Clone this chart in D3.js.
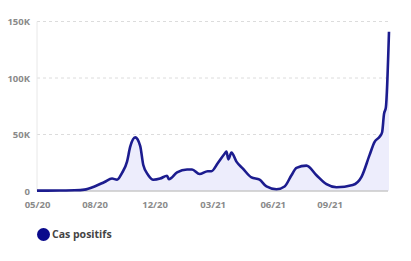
<!DOCTYPE html>
<html>
<head>
<meta charset="utf-8">
<script src="https://cdn.jsdelivr.net/npm/d3@7"></script>
<style>
  html, body { margin: 0; padding: 0; background: #fff; }
  svg { display: block; font-family: "Open Sans", sans-serif; }
</style>
</head>
<body>
<svg id="chart"></svg>
<script>
const dates = [
  "2020-05-29", "2020-07-04", "2020-07-28", "2020-08-13", "2020-08-29",
  "2020-09-14", "2020-09-26", "2020-10-04", "2020-10-12", "2020-10-20",
  "2020-10-25", "2020-11-02", "2020-11-10", "2020-11-15", "2020-11-23",
  "2020-12-01", "2020-12-12", "2020-12-23", "2020-12-26", "2021-01-08",
  "2021-01-24", "2021-02-01", "2021-02-13", "2021-02-26", "2021-03-04",
  "2021-03-14", "2021-03-25", "2021-03-28", "2021-03-31", "2021-04-05",
  "2021-04-13", "2021-04-23", "2021-05-07", "2021-05-20", "2021-05-31",
  "2021-06-16", "2021-06-29", "2021-07-10", "2021-07-18", "2021-08-03",
  "2021-08-19", "2021-09-04", "2021-09-20", "2021-10-16", "2021-10-30",
  "2021-11-12", "2021-11-20", "2021-11-28", "2021-12-02", "2021-12-05",
  "2021-12-08", "2021-12-13"
];
const casPositifs = [
  300, 400, 600, 1200, 4000,
  8000, 11000, 10000, 16000, 26000,
  39000, 47500, 40000, 23000, 14000,
  10000, 11000, 13500, 10500, 16500,
  19000, 19000, 15000, 17500, 17500,
  24500, 33000, 35000, 28000, 34000,
  26000, 20000, 12000, 10000, 4000,
  1500, 4000, 14000, 20500, 22500,
  14000, 6000, 3300, 5300, 12500,
  32000, 43500, 48000, 52000, 68000,
  74000, 141000
];
const xTickDates = ["2020-05-29", "2020-08-29", "2020-12-03", "2021-03-06", "2021-06-10", "2021-09-09"];
const yTicks = [0, 50000, 100000, 150000];
const yTickLabels = ["0", "50K", "100K", "150K"];
const seriesName = "Cas positifs";

const W = 411, H = 261;
const svg = d3.select("#chart").attr("width", W).attr("height", H);

const parse = d3.timeParse("%Y-%m-%d");
const data = dates.map((d, i) => ({date: parse(d), value: casPositifs[i]}));

const x = d3.scaleTime()
  .domain(d3.extent(data, d => d.date))
  .range([37, 389]);
const y = d3.scaleLinear()
  .domain([0, 150000])
  .range([191, 21.5]);

// grid
svg.append("g")
  .selectAll("line")
  .data(yTicks.slice(1))
  .enter()
  .append("line")
  .attr("x1", 37).attr("x2", 388)
  .attr("y1", d => y(d)).attr("y2", d => y(d))
  .attr("stroke", "#dcdcdc")
  .attr("stroke-dasharray", "3,3");

// y axis line
svg.append("line")
  .attr("x1", 37).attr("x2", 37)
  .attr("y1", y(150000)).attr("y2", y(0))
  .attr("stroke", "#e8e8e8");

// area + line
const area = d3.area()
  .x(d => x(d.date))
  .y0(y(0))
  .y1(d => y(d.value))
  .curve(d3.curveMonotoneX);
const line = d3.line()
  .x(d => x(d.date))
  .y(d => y(d.value))
  .curve(d3.curveMonotoneX);

svg.append("path")
  .datum(data)
  .attr("d", area)
  .attr("fill", "#ededfc");

// baseline
svg.append("line")
  .attr("x1", 37).attr("x2", 388)
  .attr("y1", y(0)).attr("y2", y(0))
  .attr("stroke", "#c8c8c8")
  .attr("stroke-width", 1.5);

svg.append("path")
  .datum(data)
  .attr("d", line)
  .attr("fill", "none")
  .attr("stroke", "#1c1c8f")
  .attr("stroke-width", 2.6)
  .attr("stroke-linejoin", "round");

// y labels
const yAxis = d3.axisLeft(y)
  .tickValues(yTicks)
  .tickFormat((d, i) => yTickLabels[i])
  .tickSize(0)
  .tickPadding(7);
const gy = svg.append("g").attr("transform", "translate(37,0)").call(yAxis);
gy.select(".domain").remove();
gy.selectAll("text")
  .attr("fill", "#8a8a8a")
  .attr("font-size", 9.5)
  .attr("font-weight", 700)
  .attr("font-family", "Open Sans, sans-serif");

// x labels
const xAxis = d3.axisBottom(x)
  .tickValues(xTickDates.map(parse))
  .tickFormat(d3.timeFormat("%m/%y"))
  .tickSize(0)
  .tickPadding(10);
const gx = svg.append("g").attr("transform", `translate(0,${y(0)})`).call(xAxis);
gx.select(".domain").remove();
gx.selectAll("text")
  .attr("fill", "#8a8a8a")
  .attr("font-size", 9.5)
  .attr("font-weight", 700)
  .attr("font-family", "Open Sans, sans-serif");

// legend
svg.append("circle")
  .attr("cx", 43.5).attr("cy", 234.5).attr("r", 6.5)
  .attr("fill", "#0a0a8c");
svg.append("text")
  .attr("x", 52).attr("y", 238)
  .attr("fill", "#444")
  .attr("font-size", 10.5)
  .attr("font-weight", 700)
  .text(seriesName);
</script>
</body>
</html>
